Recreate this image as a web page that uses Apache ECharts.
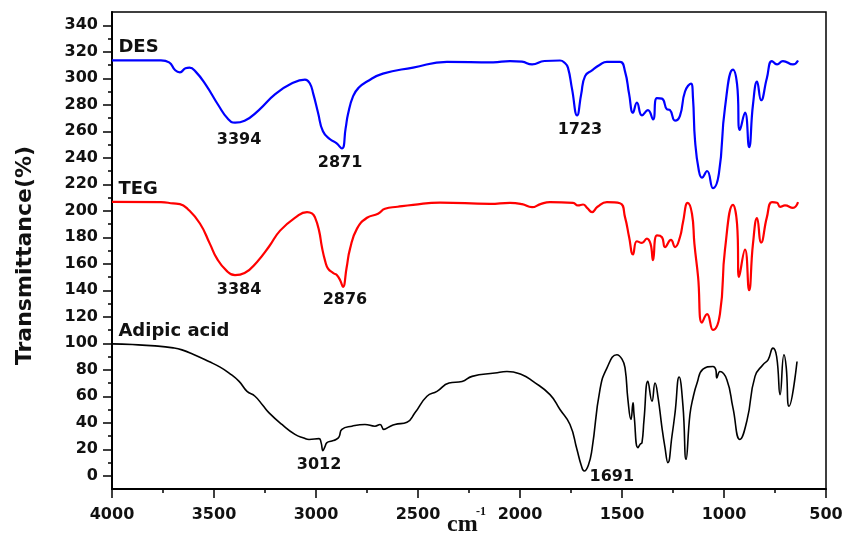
<!DOCTYPE html>
<html>
<head>
<meta charset="utf-8">
<script src="https://cdn.jsdelivr.net/npm/echarts@6/dist/echarts.min.js"></script>
<style>
  html, body { margin: 0; padding: 0; background: #fff; }
  #main { width: 846px; height: 537px; }
</style>
</head>
<body>
<div id="main"></div>
<script>
// spectra as [wavenumber (cm-1), transmittance + offset]
const desData = [
  [4000,313.5],[3760,313.5],[3720,312],[3690,306],[3667,304.5],[3640,307.5],[3620,308],[3590,305],
  [3540,295],[3480,280],[3430,269],[3397,266.5],[3350,268],[3280,276],[3200,288],[3120,296],
  [3054,299],[3030,296],[3013,288],[2990,274],[2966,260],[2931,254],[2900,251],[2873,247],
  [2855,262],[2843,273],[2818,286.5],[2790,293],[2750,297.5],[2672,303.5],[2524,308],[2358,312.4],
  [2132,312],[2049,313],[1990,312.5],[1941,310.4],[1880,313],[1804,313.4],[1780,311.5],[1765,308],
  [1745,292],[1720,272],[1700,288],[1681,301.6],[1647,306],[1610,310],[1574,312.4],[1510,312.4],
  [1485,305],[1465,288],[1446,274],[1427,281.6],[1402,272],[1373,276],[1348,269],[1329,285],
  [1304,284.6],[1280,276.6],[1265,276],[1240,268],[1216,271.6],[1191,290],[1162,296],[1152,285],
  [1142,253],[1123,230],[1108,225],[1083,230],[1054,217],[1025,228],[995,278],[956,306.5],
  [936,295.6],[922,261],[897,274],[877,248],[858,280],[838,297.5],[818,283.4],[790,300],
  [765,313],[740,310.4],[711,313],[662,310.4],[637,313.4]
];
const tegData = [
  [4000,206.7],[3760,206.5],[3700,205.5],[3667,205],[3630,201.5],[3569,190.4],[3520,175],[3486,164],
  [3440,155],[3397,151.4],[3350,153],[3289,161.4],[3230,173],[3176,185],[3100,195],[3044,199],
  [3020,198],[3005,195],[2985,185],[2971,172.6],[2955,162],[2941,156.4],[2915,153],[2897,151.4],
  [2880,147],[2868,142.6],[2850,157],[2833,171.4],[2799,186.5],[2750,194.7],[2696,197.7],[2662,201.5],
  [2600,203],[2524,204.5],[2392,206.2],[2147,205.2],[2049,206],[1990,205],[1941,202.7],[1900,205],
  [1853,206.5],[1740,206],[1716,204],[1691,204.7],[1670,202],[1647,199],[1620,203],[1574,206.5],
  [1510,205.7],[1485,195],[1465,180],[1446,167],[1427,177],[1402,175.7],[1378,179],[1360,175],
  [1348,162.7],[1329,181.4],[1304,180],[1289,172.6],[1260,178],[1240,172.6],[1216,180],[1201,191.4],
  [1178,206],[1157,197.7],[1145,175],[1127,150],[1108,115.5],[1083,122],[1054,110],[1020,122],
  [995,171],[956,204.5],[936,190],[926,150],[897,170.7],[877,140],[858,175],[838,194.5],
  [818,176],[790,195],[765,206.5],[740,206],[725,203],[701,204],[662,202.2],[637,206.5]
];
const adipicData = [
  [4000,99.5],[3900,99],[3789,98],[3700,96.5],[3657,95],[3600,91.5],[3525,86.2],[3470,82],
  [3426,77.5],[3377,71.2],[3338,63.7],[3299,60],[3260,53],[3230,47.5],[3167,38.7],[3103,31.2],
  [3060,28.5],[3034,27.4],[2985,28],[2975,25],[2966,19],[2956,22],[2946,25],[2922,26.2],
  [2902,27.4],[2887,29.4],[2873,35],[2824,37.4],[2760,38.7],[2711,37.4],[2686,38.7],[2667,35],
  [2640,37],[2613,38.7],[2554,40.4],[2515,47.5],[2456,60],[2407,63.7],[2348,70],[2284,71.2],
  [2235,75],[2123,77.5],[2064,78.7],[1990,76.2],[1936,71.2],[1853,61.2],[1804,50],[1755,38.7],
  [1721,20],[1700,8],[1685,3.6],[1665,8],[1647,20],[1608,65],[1574,81.3],[1525,91.3],
  [1500,88],[1485,81.3],[1471,57.5],[1456,42.4],[1446,55],[1441,46.2],[1422,21.2],[1410,24],
  [1402,25],[1392,42.4],[1373,71.2],[1353,56.2],[1338,70],[1323,58.8],[1304,36.2],[1290,22],
  [1275,9.9],[1255,30],[1240,47.5],[1220,74.5],[1201,52.4],[1186,12.4],[1167,46.2],[1152,58.7],
  [1132,70],[1103,80.5],[1054,82.5],[1040,80],[1035,73.8],[1020,78.7],[986,72.5],[956,51.2],
  [922,27.4],[887,42],[848,75],[809,83.8],[784,87.5],[760,96.3],[742,90],[725,61.2],
  [706,91.3],[695,82],[681,52.4],[642,86.2]
];

// annotations: [text, wavenumber, value]
const desNotes = [['3394', 3377, 253.6], ['2871', 2882, 236.5], ['1723', 1706, 261]];
const tegNotes = [['3384', 3377, 140], ['2876', 2858, 132.6]];
const adipicNotes = [['3012', 2985, 7.9], ['1691', 1550, -1]];
const titles = [['DES', 3971, 323.4], ['TEG', 3971, 216], ['Adipic acid', 3971, 108.8]];

const xTicks = [500, 1000, 1500, 2000, 2500, 3000, 3500, 4000];
const yTicks = [0, 20, 40, 60, 80, 100, 120, 140, 160, 180, 200, 220, 240, 260, 280, 300, 320, 340];
const yMinorTicks = [10, 30, 50, 70, 90, 110, 130, 150, 170, 190, 210, 230, 250, 270, 290, 310, 330];

const font = 'DejaVu Sans';

function notePoints(notes, left) {
  return notes.map(n => ({
    name: n[0],
    coord: [n[1], n[2]],
    label: left ? { position: 'right', distance: 0, fontSize: 18 } : {}
  }));
}

function makeSeries(name, data, color, width, notes, title) {
  return {
    name: name,
    type: 'line',
    data: data,
    showSymbol: false,
    smooth: 0.5,
    lineStyle: { color: color, width: width },
    animation: false,
    markPoint: {
      symbol: 'rect',
      symbolSize: 1,
      itemStyle: { color: 'rgba(0,0,0,0)' },
      label: {
        show: true,
        position: 'inside',
        formatter: '{b}',
        color: '#111',
        fontFamily: font,
        fontWeight: 'bold',
        fontSize: 16
      },
      data: notePoints(notes, false).concat(notePoints([title], true))
    }
  };
}

const chart = echarts.init(document.getElementById('main'));
chart.setOption({
  backgroundColor: '#fff',
  animation: false,
  grid: {
    left: 112, right: 20, top: 12, bottom: 48,
    outerBoundsMode: 'none',
    show: true, borderColor: '#000', borderWidth: 1.5
  },
  // x axis unit, cm with a superscript -1
  graphic: [{
    type: 'text',
    left: 447,
    top: 513,
    style: { text: 'cm', font: 'bold 24px "Liberation Serif"', fill: '#111' }
  }, {
    type: 'text',
    left: 476,
    top: 506,
    style: { text: '-1', font: 'bold 12px "Liberation Serif"', fill: '#111' }
  }],
  xAxis: {
    type: 'value',
    min: 500, max: 4000, interval: 500,
    inverse: true,
    axisLine: { onZero: false, lineStyle: { color: '#000', width: 2 } },
    axisTick: { length: 9, lineStyle: { color: '#000', width: 1.5 } },
    minorTick: { show: true, splitNumber: 2, length: 4, lineStyle: { color: '#000', width: 1.5 } },
    axisLabel: {
      customValues: xTicks,
      formatter: v => String(v),
      margin: 18,
      color: '#111', fontFamily: font, fontWeight: 'bold', fontSize: 16
    },
    splitLine: { show: false }
  },
  yAxis: [{
    type: 'value',
    min: -10, max: 350,
    name: 'Transmittance(%)',
    nameLocation: 'middle',
    nameGap: 76,
    nameTextStyle: { color: '#111', fontFamily: font, fontWeight: 'bold', fontSize: 22, padding: [0, 10, 0, 0] },
    axisLine: { show: true, lineStyle: { color: '#000', width: 2 } },
    axisTick: { show: true, customValues: yTicks, length: 9, lineStyle: { color: '#000', width: 1.5 } },
    axisLabel: {
      customValues: yTicks,
      margin: 14,
      color: '#111', fontFamily: font, fontWeight: 'bold', fontSize: 16
    },
    splitLine: { show: false }
  }, {
    type: 'value',
    min: -10, max: 350,
    position: 'left',
    axisLine: { show: false },
    axisTick: { show: true, customValues: yMinorTicks, length: 4, lineStyle: { color: '#000', width: 1.5 } },
    axisLabel: { show: false },
    splitLine: { show: false }
  }],
  series: [
    makeSeries('DES', desData, '#0000ff', 2.2, desNotes, titles[0]),
    makeSeries('TEG', tegData, '#ff0000', 2.2, tegNotes, titles[1]),
    makeSeries('Adipic acid', adipicData, '#000000', 1.6, adipicNotes, titles[2])
  ]
});
</script>
</body>
</html>
